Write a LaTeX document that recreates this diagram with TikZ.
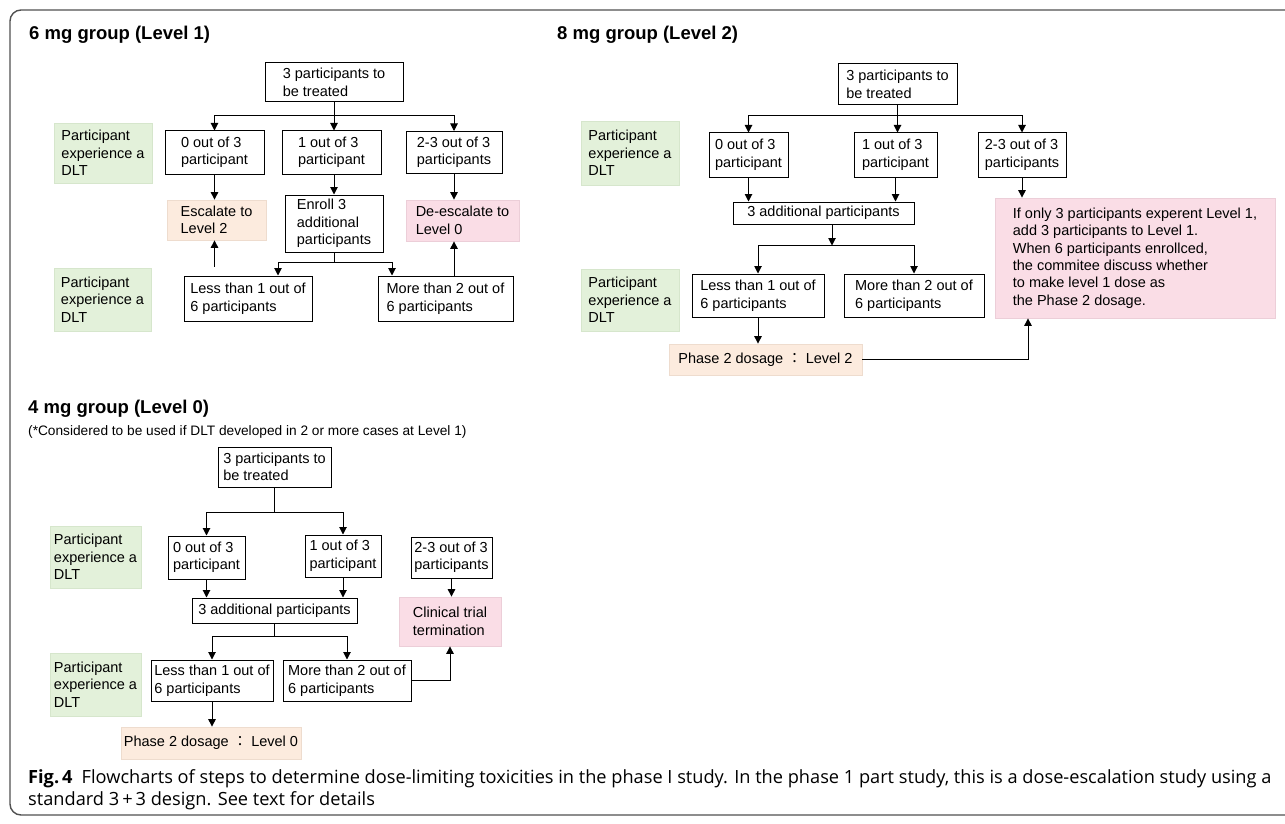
\documentclass[tikz,border=0pt]{standalone}
\usepackage{fontspec}
\setmainfont{Liberation Sans}
\newfontfamily\cjk{Noto Sans CJK JP}
\newfontfamily\capfont{Open Sans}
\usetikzlibrary{arrows.meta,calc}
\definecolor{lgreen}{RGB}{227,241,218}
\definecolor{lgreenb}{RGB}{214,230,204}
\definecolor{lpeach}{RGB}{252,235,222}
\definecolor{lpeachb}{RGB}{238,220,206}
\definecolor{lpink}{RGB}{250,221,230}
\definecolor{lpinkb}{RGB}{236,206,216}
\definecolor{framec}{RGB}{80,80,80}
\newcommand{\boxfnt}{\fontsize{14.5}{17.5}\selectfont}
\newcommand{\titfnt}{\fontsize{18.5}{22}\selectfont\bfseries}
\tikzset{
  box/.style={draw=black, line width=1pt, align=left, inner sep=2pt, font=\boxfnt},
  gbox/.style={fill=lgreen, draw=lgreenb, line width=0.8pt, align=left, inner sep=2pt, font=\boxfnt},
  pbox/.style={fill=lpeach, draw=lpeachb, line width=0.8pt, align=left, inner sep=2pt, font=\boxfnt},
  kbox/.style={fill=lpink, draw=lpinkb, line width=0.8pt, align=left, inner sep=2pt, font=\boxfnt},
  arr/.style={-{Triangle[length=7.5pt,width=7.5pt]}, line width=1pt},
  ln/.style={line width=1pt},
  ttl/.style={anchor=west, inner sep=0pt, font=\titfnt},
}
\begin{document}
\begin{tikzpicture}[x=1pt,y=-1pt]
\useasboundingbox (0,0) rectangle (1285,824);
% frame
\draw[framec, line width=1.4pt, rounded corners=11pt] (1300,10) -- (10,10) -- (10,815) -- (1300,815);

% ================= Level 1 =================
\node[ttl] (L1title) at (29,35) {6 mg group (Level 1)};
\node[box, minimum width=138, minimum height=39] (L1top) at (334,82.5) {3 participants to\\be treated};
\node[gbox, minimum width=98, minimum height=60] (L1g1) at (103,153) {Participant\\experience a\\DLT};
\node[box, minimum width=99, minimum height=43] (L1a) at (214.5,152.5) {0 out of 3\\participant};
\node[box, minimum width=99, minimum height=43] (L1b) at (331.5,152.5) {1 out of 3\\participant};
\node[box, minimum width=96, minimum height=42] (L1c) at (454,152.5) {2-3 out of 3\\participants};
\node[pbox, minimum width=99, minimum height=40] (L1esc) at (216.5,220) {Escalate to\\Level 2};
\node[box, minimum width=98, minimum height=57] (L1enr) at (334,223.5) {Enroll 3\\additional\\participants};
\node[kbox, minimum width=113, minimum height=41] (L1de) at (462.5,220.5) {De-escalate to\\Level 0};
\node[box, minimum width=128, minimum height=45] (L1less) at (248,298.5) {Less than 1 out of\\6 participants};
\node[box, minimum width=135, minimum height=45] (L1more) at (445.5,298.5) {More than 2 out of\\6 participants};
\node[gbox, minimum width=97, minimum height=63] (L1g2) at (102.5,299.5) {Participant\\experience a\\DLT};

\draw[ln] (L1top.south) -- ++(0,13) coordinate (L1j);
\draw[arr] (L1j) -| (L1a.north);
\draw[arr] (L1j) -| (L1c.north);
\draw[arr] (L1top.south) -- (L1top.south |- L1b.north);
\draw[arr] (L1a.south) -- (L1a.south |- L1esc.north);
\draw[arr] (L1top.south |- L1b.south) -- (L1top.south |- L1enr.north);
\draw[arr] (L1c.south) -- (L1c.south |- L1de.north);
\draw[ln] (L1enr.south) -- ++(0,10) coordinate (L1k);
\draw[arr] (L1k) -| ($(L1less.north)+(30,0)$);
\draw[arr] (L1k) -| ($(L1more.north)+(-53.5,0)$);
\draw[arr, shorten <=9pt] (L1a.south |- L1less.north) -- (L1a.south |- L1esc.south);
\draw[arr] (L1c.south |- L1more.north) -- (L1c.south |- L1de.south);

% ================= Level 2 =================
\node[ttl] (L2title) at (557,35) {8 mg group (Level 2)};
\node[box, minimum width=119, minimum height=41] (L2top) at (897.5,84.5) {3 participants to\\be treated};
\node[gbox, minimum width=98, minimum height=64] (L2g1) at (630,153) {Participant\\experience a\\DLT};
\node[box, minimum width=79, minimum height=44] (L2a) at (748.5,155) {0 out of 3\\participant};
\node[box, minimum width=83, minimum height=44] (L2b) at (895.5,155) {1 out of 3\\participant};
\node[box, minimum width=88, minimum height=44] (L2c) at (1022,155) {2-3 out of 3\\participants};
\node[box, minimum width=181, minimum height=22, inner ysep=1pt] (L2add) at (823.5,213) {3 additional participants};
\node[box, minimum width=132, minimum height=43] (L2less) at (758,295.5) {Less than 1 out of\\6 participants};
\node[box, minimum width=140, minimum height=43] (L2more) at (914,295.5) {More than 2 out of\\6 participants};
\node[gbox, minimum width=98, minimum height=62] (L2g2) at (630,300) {Participant\\experience a\\DLT};
\node[pbox, minimum width=193, minimum height=31] (L2ph) at (765.5,359.5) {Phase 2 dosage {\cjk ：} Level 2};
\node[kbox, minimum width=280, minimum height=120] (L2pink) at (1135,258) {If only 3 participants experent Level 1,\\add 3 participants to Level 1.\\When 6 participants enrollced,\\the commitee discuss whether\\to make level 1 dose as\\the Phase 2 dosage.};

\draw[ln] (L2top.south) -- ++(0,10) coordinate (L2j);
\draw[arr] (L2j) -| (L2a.north);
\draw[arr] (L2j) -| (L2c.north);
\draw[arr] (L2top.south) -- (L2top.south |- L2b.north);
\draw[arr] (L2a.south) -- (L2a.south |- L2add.north);
\draw[arr] (L2b.south) -- (L2b.south |- L2add.north);
\draw[arr] ($(L2add.south)+(8.5,0)$) -- ++(0,21) coordinate (L2k);
\draw[arr] (L2k) -| (L2less.north);
\draw[arr] (L2k) -| (L2more.north);
\draw[arr] (L2less.south) -- (L2less.south |- L2ph.north);
\draw[arr] (L2c.south) -- (L2c.south |- L2pink.north);
\draw[arr] (L2ph.east) -| ($(L2pink.south)+(-107,0)$);

% ================= Level 0 =================
\node[ttl] (L0title) at (28,409) {4 mg group (Level 0)};
\node[anchor=west, inner sep=0pt, font=\fontsize{13.7}{15}\selectfont] (L0sub) at (28,432) {(*Considered to be used if DLT developed in 2 or more cases at Level 1)};
\node[box, minimum width=113, minimum height=40] (L0top) at (274.5,467) {3 participants to\\be treated};
\node[gbox, minimum width=91, minimum height=62] (L0g1) at (95.5,557) {Participant\\experience a\\DLT};
\node[box, minimum width=77, minimum height=43] (L0a) at (206.5,557.5) {0 out of 3\\participant};
\node[box, minimum width=76, minimum height=42] (L0b) at (343,556) {1 out of 3\\participant};
\node[box, minimum width=81, minimum height=41] (L0c) at (451.5,557.5) {2-3 out of 3\\participants};
\node[box, minimum width=165, minimum height=25, inner ysep=1pt] (L0add) at (274.5,610.5) {3 additional participants};
\node[box, minimum width=122, minimum height=41] (L0less) at (212,680.5) {Less than 1 out of\\6 participants};
\node[box, minimum width=128, minimum height=41] (L0more) at (347,680.5) {More than 2 out of\\6 participants};
\node[gbox, minimum width=91, minimum height=63] (L0g2) at (95.5,684.5) {Participant\\experience a\\DLT};
\node[kbox, minimum width=102, minimum height=49] (L0clin) at (450,621.5) {Clinical trial\\termination};
\node[pbox, minimum width=180, minimum height=32] (L0ph) at (211,743) {Phase 2 dosage {\cjk ：} Level 0};

\draw[ln] (L0top.south) -- ++(0,25) coordinate (L0j);
\draw[arr] (L0j) -| (L0a.north);
\draw[arr] (L0j) -| (L0b.north);
\draw[arr] (L0a.south) -- (L0a.south |- L0add.north);
\draw[arr] (L0b.south) -- (L0b.south |- L0add.north);
\draw[ln] (L0add.south) -- ++(0,13) coordinate (L0k);
\draw[arr] (L0k) -| (L0less.north);
\draw[arr] (L0k) -| (L0more.north);
\draw[arr] (L0c.south) -- (L0c.south |- L0clin.north);
\draw[arr] (L0more.east) -| (L0clin.south);
\draw[arr] (L0less.south) -- (L0less.south |- L0ph.north);

% ================= Caption =================
\node[anchor=north west, inner sep=0pt, align=left, font=\capfont\fontsize{18.2}{22}\selectfont] (cap) at (28,769)
 {\textbf{Fig.\,4}\enspace Flowcharts of steps to determine dose-limiting toxicities in the phase I study. In the phase 1 part study, this is a dose-escalation study using a\\
 standard 3\,+\,3 design. See text for details};
\end{tikzpicture}
\end{document}
